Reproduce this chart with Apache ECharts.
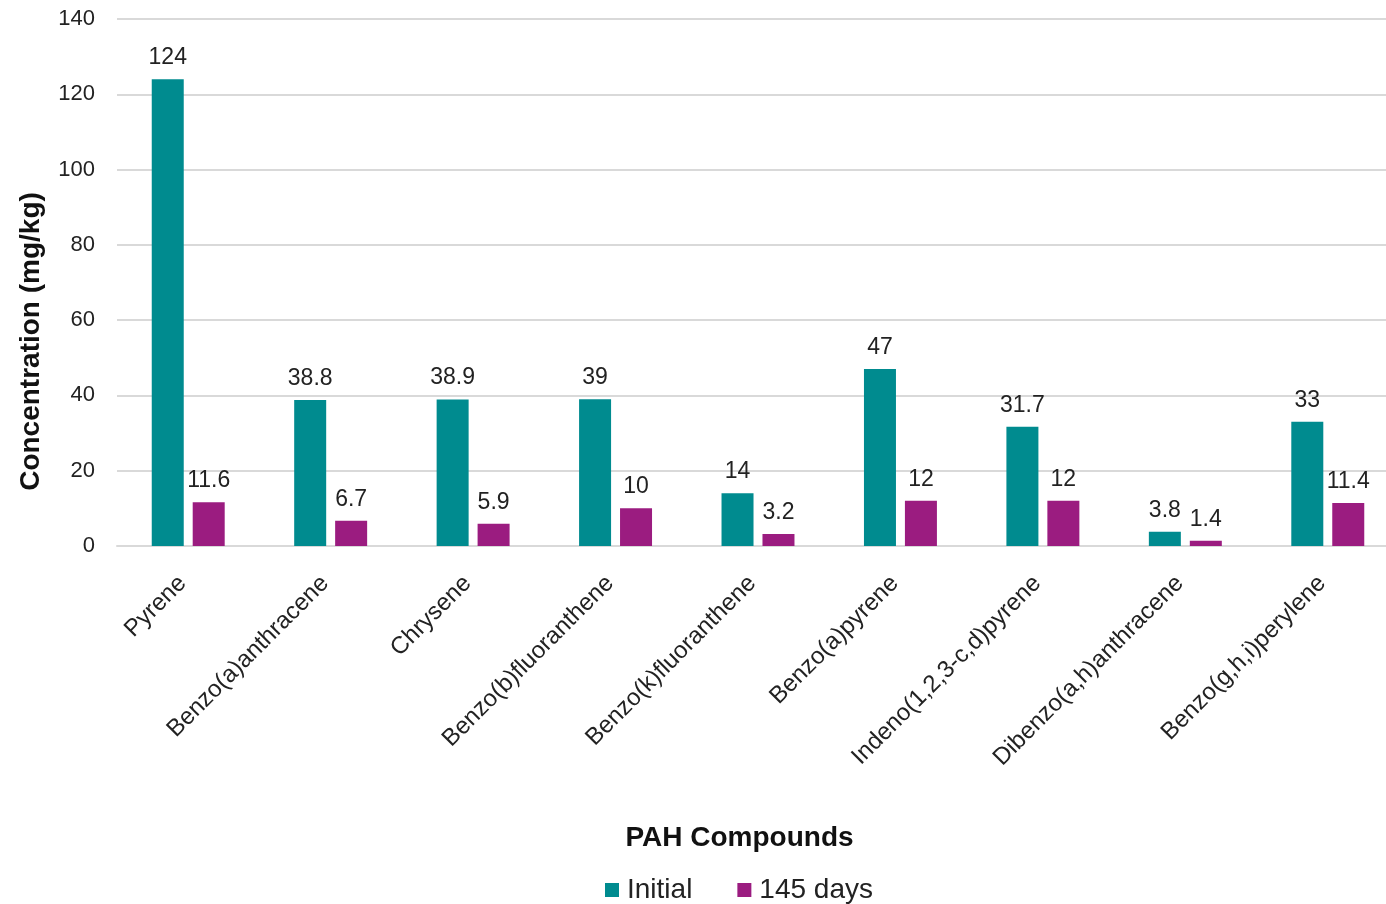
<!DOCTYPE html>
<html><head><meta charset="utf-8">
<script src="https://cdn.jsdelivr.net/npm/echarts@6/dist/echarts.min.js"></script>
<style>html,body{margin:0;padding:0;background:#fff}#c{width:1386px;height:904px}</style>
</head><body><div id="c"></div>
<script>
const categories = ['Pyrene','Benzo(a)anthracene','Chrysene','Benzo(b)fluoranthene','Benzo(k)fluoranthene','Benzo(a)pyrene','Indeno(1,2,3-c,d)pyrene','Dibenzo(a,h)anthracene','Benzo(g,h,i)perylene'];
const initialValues = [124, 38.8, 38.9, 39, 14, 47, 31.7, 3.8, 33];
const days145Values = [11.6, 6.7, 5.9, 10, 3.2, 12, 12, 1.4, 11.4];
const seriesNames = ['Initial', '145 days'];
const font = 'Liberation Sans, Arial, sans-serif';
const chart = echarts.init(document.getElementById('c'));
const labelCfg = {show: true, position: 'top', distance: 10, fontSize: 23, color: '#222', fontFamily: font};
chart.setOption({
  animation: false,
  grid: {left: 117, width: 1282, top: 19, bottom: 358, containLabel: false, outerBoundsMode: 'none'},
  legend: {
    data: seriesNames, bottom: -5, left: 600, itemWidth: 14, itemHeight: 14, itemGap: 45,
    textStyle: {fontSize: 28, color: '#222', fontFamily: font, padding: [0,0,0,3]},
    icon: 'rect'
  },
  xAxis: {
    type: 'category', data: categories,
    axisLine: {lineStyle: {color: '#d9d9d9', width: 2}},
    axisTick: {show: false},
    axisLabel: {rotate: 45, fontSize: 24, color: '#222', fontFamily: font, margin: 28, interval: 0, padding: [0, 8, 0, 0]},
    name: 'PAH Compounds', nameLocation: 'middle', nameGap: 278,
    nameTextStyle: {fontSize: 28, fontWeight: 'bold', color: '#111', fontFamily: font, padding: [0, 37, 0, 0]}
  },
  yAxis: {
    type: 'value', min: 0, max: 140, interval: 20,
    axisLine: {show: false}, axisTick: {show: false},
    splitLine: {lineStyle: {color: '#d9d9d9', width: 2}},
    axisLabel: {fontSize: 22, color: '#222', fontFamily: font, margin: 22},
    name: 'Concentration (mg/kg)', nameLocation: 'middle', nameGap: 72,
    nameTextStyle: {fontSize: 28, fontWeight: 'bold', color: '#111', fontFamily: font, padding: [0, 0, 0, -118]}
  },
  series: [
    {name: seriesNames[0], type: 'bar', data: initialValues, barWidth: 32, barGap: '28%',
     itemStyle: {color: '#008B8F'}, label: labelCfg},
    {name: seriesNames[1], type: 'bar', data: days145Values, barWidth: 32,
     itemStyle: {color: '#9B1C80'}, label: labelCfg}
  ]
});
</script></body></html>
